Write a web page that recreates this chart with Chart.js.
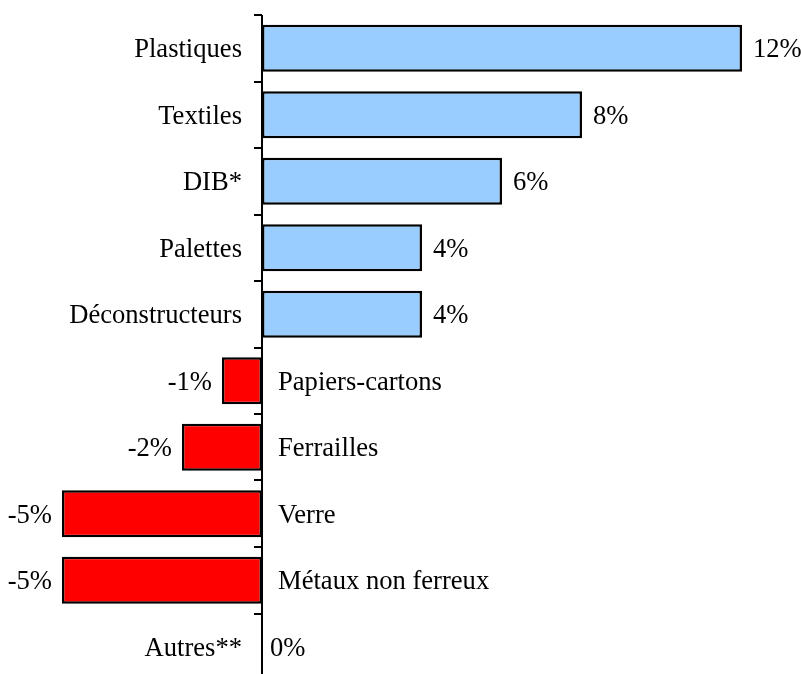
<!DOCTYPE html>
<html>
<head>
<meta charset="utf-8">
<script src="https://cdn.jsdelivr.net/npm/chart.js@4"></script>
<style>
  html, body { margin: 0; padding: 0; background: #fff; overflow: hidden; }
  #wrap { width: 801px; height: 700px; }
</style>
</head>
<body>
<div id="wrap"><canvas id="chart" width="801" height="700"></canvas></div>
<script>
// --- Données ---
const categories = ['Plastiques', 'Textiles', 'DIB*', 'Palettes', 'Déconstructeurs',
  'Papiers-cartons', 'Ferrailles', 'Verre', 'Métaux non ferreux', 'Autres**'];
const values = [12, 8, 6, 4, 4, -1, -2, -5, -5, 0];
const valueLabels = ['12%', '8%', '6%', '4%', '4%', '-1%', '-2%', '-5%', '-5%', '0%'];

const blue = '#99CCFF';
const red = '#FF0000';
const font = '26.6px "Liberation Serif", "Times New Roman", serif';

// --- Axe vertical + étiquettes ---
const axisLabels = {
  id: 'axisLabels',
  afterDatasetsDraw(chart) {
    const ctx = chart.ctx;
    const x = chart.scales.x;
    const y = chart.scales.y;
    const x0 = x.getPixelForValue(0);
    const top = chart.chartArea.top;

    ctx.save();
    ctx.strokeStyle = '#000';
    ctx.lineWidth = 2;
    ctx.beginPath();
    ctx.moveTo(x0, top);
    ctx.lineTo(x0, chart.height);
    ctx.stroke();

    // petites graduations entre catégories
    for (let i = 0; i <= categories.length; i++) {
      const ty = Math.round(y.getPixelForValue(i - 0.5));
      ctx.beginPath();
      ctx.moveTo(x0 - 8, ty);
      ctx.lineTo(x0, ty);
      ctx.stroke();
    }

    ctx.font = font;
    ctx.fillStyle = '#000';
    ctx.textBaseline = 'middle';
    values.forEach((v, i) => {
      const cy = y.getPixelForValue(i) + 2;
      const xe = x.getPixelForValue(v);
      if (v >= 0) {
        ctx.textAlign = 'right';
        ctx.fillText(categories[i], x0 - 20, cy);
        ctx.textAlign = 'left';
        ctx.fillText(valueLabels[i], v === 0 ? x0 + 8 : xe + 11, cy);
      } else {
        ctx.textAlign = 'left';
        ctx.fillText(categories[i], x0 + 16, cy);
        ctx.textAlign = 'right';
        ctx.fillText(valueLabels[i], xe - 10, cy);
      }
    });
    ctx.restore();
  }
};

new Chart(document.getElementById('chart'), {
  type: 'bar',
  data: {
    labels: categories,
    datasets: [{
      data: values,
      backgroundColor: values.map(v => v < 0 ? red : blue),
      borderColor: '#000',
      borderWidth: 2.5,
      borderSkipped: false,
      barPercentage: 0.707,
      categoryPercentage: 1
    }]
  },
  options: {
    indexAxis: 'y',
    responsive: false,
    animation: false,
    layout: { padding: { left: 22, right: 19, top: 15, bottom: 20 } },
    plugins: {
      legend: { display: false },
      tooltip: { enabled: false }
    },
    scales: {
      x: { min: -6, max: 13, display: false },
      y: { display: false, offset: true }
    }
  },
  plugins: [axisLabels]
});
</script>
</body>
</html>
